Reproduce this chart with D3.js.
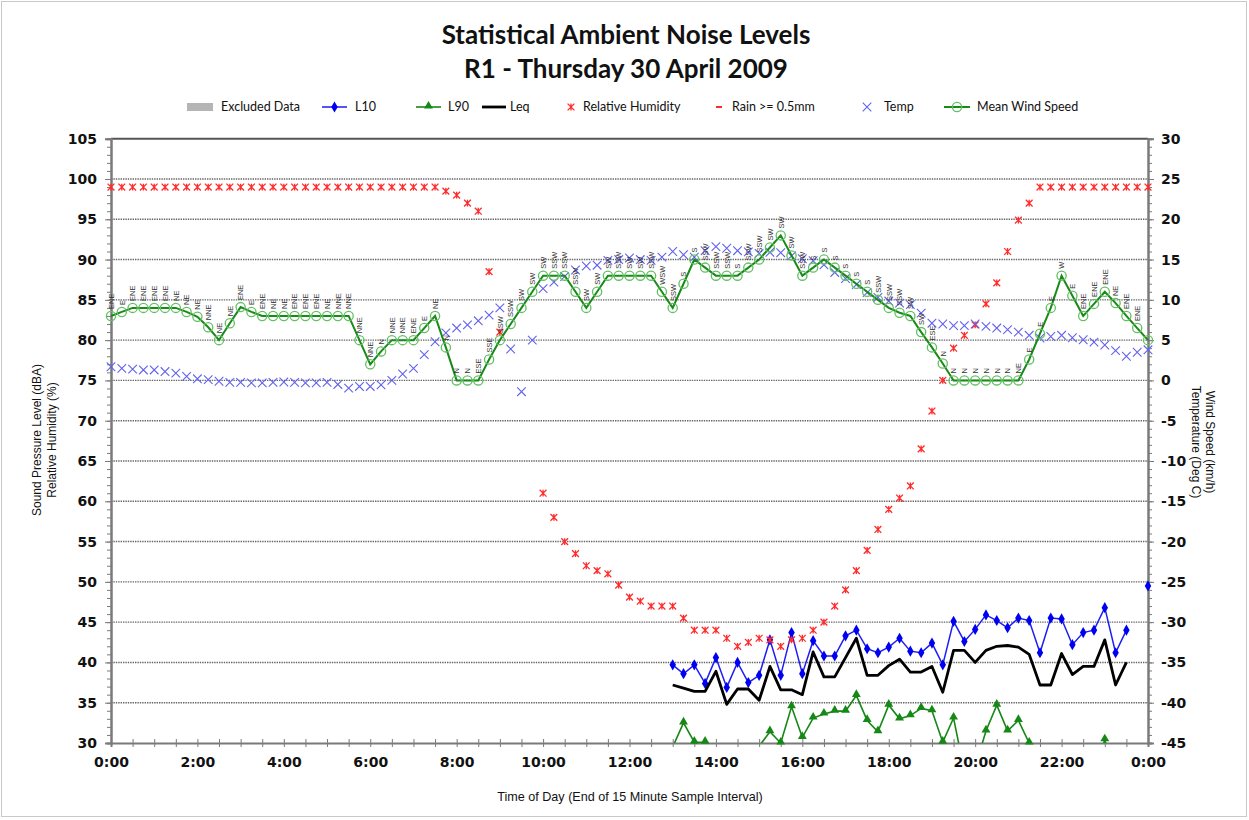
<!DOCTYPE html>
<html>
<head>
<meta charset="utf-8">
<script src="https://cdn.jsdelivr.net/npm/d3@7/dist/d3.min.js"></script>
<style>
  body { margin: 0; background: #fff; }
  svg text { font-family: "Liberation Sans", Arial, sans-serif; }
</style>
</head>
<body>
<svg id="chart" width="1249" height="820"></svg>
<script>
// ---- Data: 15-minute samples, index 0 = 0:00, index 96 = 24:00 ----
const sampleIndex = d3.range(97);
const xTickLabels = ["0:00","2:00","4:00","6:00","8:00","10:00","12:00","14:00","16:00","18:00","20:00","22:00","0:00"];
const leftTicks = d3.range(30, 106, 5);
const rightTicks = d3.range(-45, 31, 5);

// Relative humidity (%), left axis
const humidity = [
  99,99,99,99,99,99,99,99,99,99, 99,99,99,99,99,99,99,99,99,99,
  99,99,99,99,99,99,99,99,99,99, 99,98.5,98,97,96,88.5,81,null,null,null,
  61,58,55,53.5,52,51.4,51,49.6,48.1,47.6, 47,47,47,45.5,44,44,44,43,42,42.5,
  43,42.8,42,42.8,43,44,45,47,49,51.4, 53.9,56.5,59,60.4,61.9,66.5,71.2,75,79,80.6,
  81.9,84.5,87.1,91,94.9,97,99,99,99,99, 99,99,99,99,99,99,99
];

// Temperature (Deg C), right axis
const temperature = [
  1.7,1.5,1.4,1.3,1.3,1.1,0.9,0.5,0.2,0.1, -0.1,-0.25,-0.25,-0.3,-0.3,-0.25,-0.2,-0.25,-0.3,-0.3,
  -0.25,-0.5,-0.95,-0.75,-0.75,-0.55,0.0,0.8,1.5,3.2, 4.8,5.9,6.5,6.9,7.4,8.1,9.0,3.9,-1.4,5.0,
  11.4,12.2,12.9,13.7,14.2,14.3,14.9,15.0,15.2,15.0, 14.9,15.3,16.0,15.6,15.3,16.1,16.6,16.4,16.1,15.95,
  15.75,15.9,15.85,15.45,15.1,14.85,14.35,13.4,12.65,11.9, 10.9,10.3,9.85,9.6,9.4,8.35,7.1,7.0,6.8,6.8,
  7.0,6.7,6.5,6.3,6.0,5.6,5.25,5.45,5.6,5.3, 5.05,4.75,4.4,3.7,3.0,3.5,3.8
];

// Mean wind speed (km/h), right axis
const windSpeed = [
  8,8.5,9,9,9,9,9,8.5,7.9,6.6, 5,7.1,9.1,8.5,8,8,8,8,8,8,
  8,8,8,5,2,3.6,5,5,5,6.5, 8,4.1,0,0,0,2.6,5,7,9,11,
  13,13,13,11,9,11,13,13,13,13, 13,11,9,12,15,14,13,13,13,14,
  15,16.5,18,15.5,13,14,15,14,13,12, 11,10,9,8.4,8,6,4.1,2.1,0,0,
  0,0,0,0,0,2.6,5.8,9,13,10.5, 8,9.5,11,9.6,8,6.5,5
];

// Wind direction for each sample
const windDirection = [
  "ENE","E","ENE","ENE","ENE","ENE","NE","NE","NE","NNE",
  "NE","NE","ENE","E","ENE","NE","NE","ENE","ENE","ENE",
  "NE","NNE","NNE","NNE","NNE","N","NNE","NNE","ENE","E",
  "NE","N","N","N","ESE","SSE","SSW","SSW","SW","SW",
  "SW","SSW","SSW","SSW","SW","SW","SW","SSW","SW","SW",
  "SSW","WSW","SSW","S","S","SSW","SSW","SSW","S","SSW",
  "SSW","SW","SW","SW","SSW","S","S","S","S","S",
  "S","SSW","SSW","SSW","SW","SW","ESE","N","N","N",
  "N","N","N","N","NE","E","E","E","W","E",
  "ENE","ENE","ENE","NE","ENE","ENE",""
];

// Noise levels (dBA) from 13:00 (sample 52) to 24:00 (sample 96)
const noiseStart = 52;
const L10 = [
  39.7,38.6,39.7,37.4,40.6,36.9,40.0,37.5,38.4,42.8,
  38.4,43.7,38.6,42.7,40.8,40.8,43.3,44.0,41.7,41.2,
  41.9,43.0,41.4,41.2,42.4,39.7,45.1,42.6,44.1,45.9,
  45.2,44.3,45.5,45.2,41.2,45.5,45.4,42.2,43.7,44.0,
  46.8,41.2,44.0,null,49.5
];
const L90 = [
  29.5,32.5,30.1,30.1,28,27,28,27.5,29.6,31.4,
  30.0,34.5,30.7,33.1,33.6,33.95,33.95,35.9,32.8,31.4,
  34.7,33.0,33.4,34.3,34.0,30.1,33.1,26.5,27,31.5,
  34.7,31.5,32.8,30.0,26,25,26,26,26,26,
  30.4,26,27,null,null
];
const Leq = [
  37.2,36.8,36.4,36.4,38.9,34.8,36.7,36.7,35.3,39.5,
  36.6,36.6,36.0,41.3,38.2,38.2,40.6,43.0,38.4,38.4,
  39.6,40.4,38.8,38.8,39.5,36.3,41.5,41.5,40.0,41.5,
  42.0,42.1,41.9,41.0,37.2,37.2,41.1,38.5,39.5,39.5,
  42.8,37.2,40.0,null,null
];

const legendNames = ["Excluded Data","L10","L90","Leq","Relative Humidity","Rain >= 0.5mm","Temp","Mean Wind Speed"];

// ---- Layout ----
const plot = { left: 111, right: 1148, top: 138.7, bottom: 743 };
const svg = d3.select("#chart");

const x = d3.scaleLinear().domain([0, 96]).range([plot.left, plot.right]);
const yL = d3.scaleLinear().domain([30, 105]).range([plot.bottom, plot.top]);
const yR = d3.scaleLinear().domain([-45, 30]).range([plot.bottom, plot.top]);

const colors = {
  humidity: "#ff2b2b", temp: "#6262ee", windLine: "#178a17", windMarker: "#62c062",
  l10: "#1d1df5", l90: "#168816", leq: "#000000", grid: "#666", axis: "#7a7a7a"
};

// Outer chart frame
svg.append("rect").attr("x", 1.5).attr("y", 1.5).attr("width", 1245).attr("height", 815)
  .attr("fill", "#fff").attr("stroke", "#c9c9c9").attr("stroke-width", 1);

// Title
const title = svg.append("text").attr("text-anchor", "middle")
  .style("font-family", "Lato, 'Liberation Sans', sans-serif").style("font-weight", 700)
  .style("font-size", "26px").attr("fill", "#111");
title.append("tspan").attr("x", 626).attr("y", 44).text("Statistical Ambient Noise Levels");
title.append("tspan").attr("x", 626).attr("y", 78).text("R1 - Thursday 30 April 2009");

// Clip region for series lines
svg.append("clipPath").attr("id", "plotClip").append("rect")
  .attr("x", plot.left).attr("y", plot.top)
  .attr("width", plot.right - plot.left).attr("height", plot.bottom - plot.top);

// Gridlines
svg.append("g").selectAll("line").data(leftTicks.filter(v => v > 30 && v < 105)).join("line")
  .attr("x1", plot.left).attr("x2", plot.right)
  .attr("y1", d => yL(d)).attr("y2", d => yL(d))
  .attr("stroke", colors.grid).attr("stroke-width", 1.4).attr("stroke-dasharray", "1.4,1");

// Top border
svg.append("line").attr("x1", plot.left).attr("x2", plot.right)
  .attr("y1", plot.top).attr("y2", plot.top).attr("stroke", "#555").attr("stroke-width", 2);

// Axes styling
function styleAxis(g) {
  g.select(".domain").attr("stroke", colors.axis).attr("stroke-width", 2);
  g.selectAll(".tick line").attr("stroke", colors.axis).attr("stroke-width", 1);
}
const tickFont = "'DejaVu Sans', sans-serif";
const plainNumber = d => String(d);

// Left axis: minor then major ticks
svg.append("g").attr("transform", `translate(${plot.left},0)`)
  .call(d3.axisLeft(yL).tickValues(d3.range(30, 106, 1)).tickSize(4).tickFormat(""))
  .call(styleAxis);
svg.append("g").attr("transform", `translate(${plot.left},0)`)
  .call(d3.axisLeft(yL).tickValues(leftTicks).tickSize(6).tickPadding(8).tickFormat(plainNumber))
  .call(styleAxis)
  .call(g => g.selectAll("text").style("font-family", tickFont).style("font-weight", 700)
    .style("font-size", "14px").attr("fill", "#111"));

// Right axis
svg.append("g").attr("transform", `translate(${plot.right},0)`)
  .call(d3.axisRight(yR).tickValues(d3.range(-45, 31, 1)).tickSize(4).tickFormat(""))
  .call(styleAxis);
svg.append("g").attr("transform", `translate(${plot.right},0)`)
  .call(d3.axisRight(yR).tickValues(rightTicks).tickSize(6).tickPadding(7).tickFormat(plainNumber))
  .call(styleAxis)
  .call(g => g.selectAll("text").style("font-family", tickFont).style("font-weight", 700)
    .style("font-size", "14px").attr("fill", "#111"));

// Bottom axis: ticks every 30 minutes crossing the axis line
const xAxis = svg.append("g").attr("transform", `translate(0,${plot.bottom})`)
  .call(d3.axisBottom(x).tickValues(d3.range(0, 97, 2)).tickSize(4).tickFormat(""))
  .call(styleAxis);
xAxis.selectAll(".tick line").attr("y1", -4);
svg.append("g").attr("transform", `translate(0,${plot.bottom})`)
  .call(d3.axisBottom(x).tickValues(d3.range(0, 97, 8)).tickSize(0).tickPadding(14)
    .tickFormat((d, i) => xTickLabels[i]))
  .call(g => g.select(".domain").remove())
  .call(g => g.selectAll("text").style("font-family", tickFont).style("font-weight", 700)
    .style("font-size", "14px").attr("fill", "#111"));

// Axis titles
svg.append("text").attr("text-anchor", "middle").attr("font-size", 12.6).attr("fill", "#111")
  .attr("transform", "translate(630,801)").text("Time of Day (End of 15 Minute Sample Interval)");
const leftTitle = svg.append("text").attr("text-anchor", "middle").attr("font-size", 12).attr("fill", "#111")
  .attr("transform", "translate(41,440) rotate(-90)");
leftTitle.append("tspan").attr("x", 0).attr("y", 0).text("Sound Pressure Level (dBA)");
leftTitle.append("tspan").attr("x", 0).attr("y", 15).text("Relative Humidity (%)");
const rightTitle = svg.append("text").attr("text-anchor", "middle").attr("font-size", 12).attr("fill", "#111")
  .attr("transform", "translate(1206,442) rotate(90)");
rightTitle.append("tspan").attr("x", 0).attr("y", 0).text("Wind Speed (km/h)");
rightTitle.append("tspan").attr("x", 0).attr("y", 14).text("Temperature (Deg C)");

// Marker shapes
const diamond = d3.symbol().type(d3.symbolDiamond).size(36);
const triangle = d3.symbol().type(d3.symbolTriangle).size(34);
function starPath(s) { return `M${-s},${-s}L${s},${s}M${-s},${s}L${s},${-s}M0,${-s}L0,${s}`; }
function crossPath(s) { return `M${-s},${-s}L${s},${s}M${-s},${s}L${s},${-s}`; }

// Noise series
const noiseRows = L10.map((v, k) => ({ i: noiseStart + k, l10: v, l90: L90[k], leq: Leq[k] }));
const series = svg.append("g");

series.append("path").datum(noiseRows)
  .attr("fill", "none").attr("stroke", colors.l10).attr("stroke-width", 1.5)
  .attr("d", d3.line().defined(d => d.l10 != null).x(d => x(d.i)).y(d => yL(d.l10)));
series.append("g").selectAll("path").data(noiseRows.filter(d => d.l10 != null)).join("path")
  .attr("transform", d => `translate(${x(d.i)},${yL(d.l10)})`).attr("d", diamond).attr("fill", "#0000f0");

series.append("path").datum(noiseRows).attr("clip-path", "url(#plotClip)")
  .attr("fill", "none").attr("stroke", colors.l90).attr("stroke-width", 1.6)
  .attr("d", d3.line().defined(d => d.l90 != null).x(d => x(d.i)).y(d => yL(d.l90)));
series.append("g").selectAll("path").data(noiseRows.filter(d => d.l90 != null && d.l90 >= 30)).join("path")
  .attr("transform", d => `translate(${x(d.i)},${yL(d.l90) - 1})`).attr("d", triangle).attr("fill", colors.l90);

series.append("path").datum(noiseRows)
  .attr("fill", "none").attr("stroke", colors.leq).attr("stroke-width", 2.8).attr("stroke-linejoin", "round")
  .attr("d", d3.line().defined(d => d.leq != null).x(d => x(d.i)).y(d => yL(d.leq)));

// Relative humidity markers
series.append("g").selectAll("path").data(sampleIndex.filter(i => humidity[i] != null)).join("path")
  .attr("transform", i => `translate(${x(i)},${yL(humidity[i])})`)
  .attr("d", starPath(3.4)).attr("fill", "none").attr("stroke", colors.humidity).attr("stroke-width", 1.3);

// Temperature markers
series.append("g").selectAll("path").data(sampleIndex).join("path")
  .attr("transform", i => `translate(${x(i)},${yR(temperature[i])})`)
  .attr("d", crossPath(4.3)).attr("fill", "none").attr("stroke", colors.temp).attr("stroke-width", 1.1);

// Mean wind speed
series.append("path").datum(sampleIndex)
  .attr("fill", "none").attr("stroke", colors.windLine).attr("stroke-width", 2)
  .attr("d", d3.line().x(i => x(i)).y(i => yR(windSpeed[i])));
series.append("g").selectAll("circle").data(sampleIndex).join("circle")
  .attr("cx", i => x(i)).attr("cy", i => yR(windSpeed[i])).attr("r", 4.6)
  .attr("fill", "none").attr("stroke", colors.windMarker).attr("stroke-width", 1.3);

// Wind direction labels, vertical, above each point
series.append("g").selectAll("text").data(sampleIndex.filter(i => windDirection[i])).join("text")
  .attr("transform", i => `translate(${x(i) + 2.8},${yR(windSpeed[i]) - 7}) rotate(-90)`)
  .attr("font-size", 7.5).attr("fill", "#333").text(i => windDirection[i]);

// Legend
const legendY = 107;
const legendSwatchX = [187, 322, 416, 482, 565, 713, 861, 944];
const legendTextX = [221, 355, 448, 510, 583, 732, 884, 977];
const legend = svg.append("g");
legend.selectAll("text").data(legendNames).join("text")
  .attr("x", (d, k) => legendTextX[k]).attr("y", legendY + 4)
  .style("font-family", "Lato, 'Liberation Sans', sans-serif").style("font-size", "12.5px").attr("fill", "#111")
  .text(d => d);
legend.append("rect").attr("x", legendSwatchX[0]).attr("y", legendY - 4).attr("width", 26).attr("height", 8).attr("fill", "#b5b5b5");
legend.append("line").attr("x1", legendSwatchX[1]).attr("x2", legendSwatchX[1] + 25).attr("y1", legendY).attr("y2", legendY)
  .attr("stroke", colors.l10).attr("stroke-width", 1.5);
legend.append("path").attr("transform", `translate(${legendSwatchX[1] + 12.5},${legendY})`).attr("d", diamond).attr("fill", "#0000f0");
legend.append("line").attr("x1", legendSwatchX[2]).attr("x2", legendSwatchX[2] + 25).attr("y1", legendY).attr("y2", legendY)
  .attr("stroke", colors.l90).attr("stroke-width", 1.6);
legend.append("path").attr("transform", `translate(${legendSwatchX[2] + 12.5},${legendY - 1})`).attr("d", triangle).attr("fill", colors.l90);
legend.append("line").attr("x1", legendSwatchX[3]).attr("x2", legendSwatchX[3] + 24).attr("y1", legendY).attr("y2", legendY)
  .attr("stroke", colors.leq).attr("stroke-width", 2.8);
legend.append("path").attr("transform", `translate(${legendSwatchX[4] + 6},${legendY})`).attr("d", starPath(3.4))
  .attr("fill", "none").attr("stroke", colors.humidity).attr("stroke-width", 1.3);
legend.append("line").attr("x1", legendSwatchX[5] + 3).attr("x2", legendSwatchX[5] + 9).attr("y1", legendY).attr("y2", legendY)
  .attr("stroke", colors.humidity).attr("stroke-width", 2);
legend.append("path").attr("transform", `translate(${legendSwatchX[6] + 6},${legendY})`).attr("d", crossPath(4.3))
  .attr("fill", "none").attr("stroke", colors.temp).attr("stroke-width", 1.1);
legend.append("line").attr("x1", legendSwatchX[7]).attr("x2", legendSwatchX[7] + 26).attr("y1", legendY).attr("y2", legendY)
  .attr("stroke", colors.windLine).attr("stroke-width", 2);
legend.append("circle").attr("cx", legendSwatchX[7] + 13).attr("cy", legendY).attr("r", 4.6)
  .attr("fill", "none").attr("stroke", colors.windMarker).attr("stroke-width", 1.3);
</script>
</body>
</html>
